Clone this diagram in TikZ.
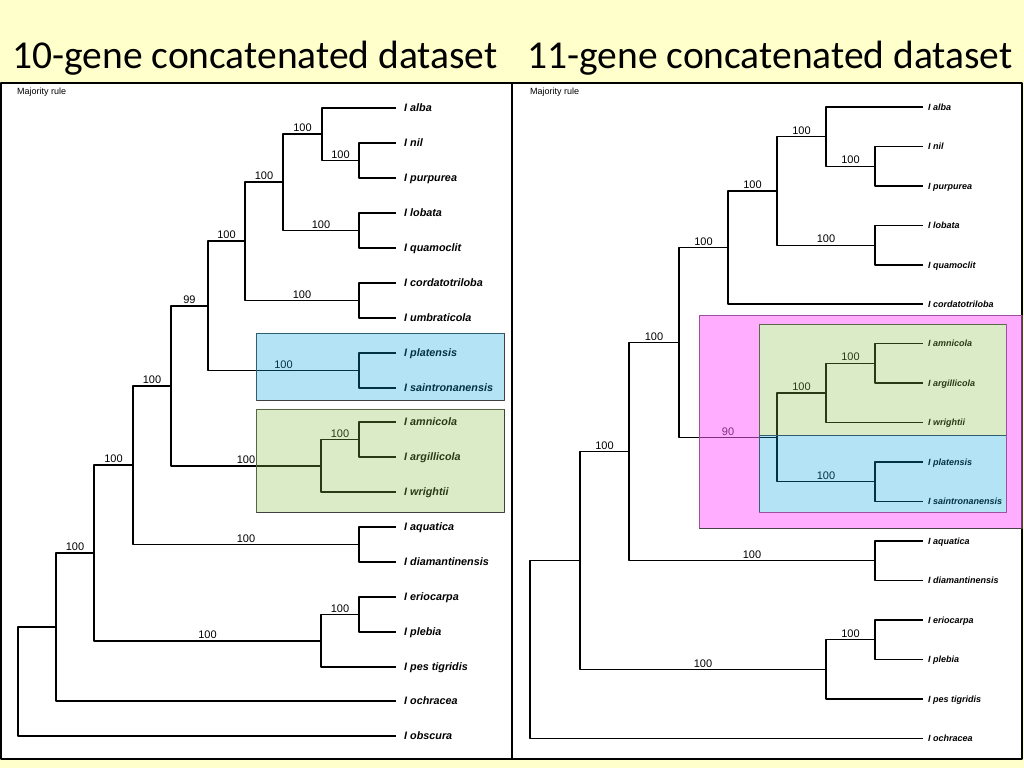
\documentclass[tikz,border=0pt]{standalone}
\usepackage{fontspec}
\setmainfont{Carlito}
\newfontfamily\treefont{Liberation Sans}
\definecolor{slidebg}{RGB}{255,255,204}
\definecolor{bluebox}{RGB}{5,165,225}
\definecolor{greenbox}{RGB}{142,192,72}
\definecolor{pinkbox}{RGB}{255,95,255}
\begin{document}
\begin{tikzpicture}[x=1bp,y=-1bp,line join=bevel,
  branch/.style={black,line width=1.3bp},
  leaf/.style={anchor=west,inner xsep=8bp,inner ysep=0pt,text height=7.7bp,text depth=0pt,
    font=\treefont\bfseries\itshape\fontsize{10.8bp}{12bp}\selectfont},
  rleaf/.style={leaf,inner xsep=5bp,text height=6.4bp,
    font=\treefont\bfseries\itshape\fontsize{9bp}{10bp}\selectfont},
  boot/.style={pos=0.75,above,inner sep=1.5bp,font=\treefont\fontsize{11bp}{12bp}\selectfont},
  panel/.style={draw=black,fill=white,line width=1.5bp},
  ]
\useasboundingbox (0,0) rectangle (1024,768);
\fill[slidebg] (0,0) rectangle (1024,768);
%%
\node (title_l) at (12,69) [anchor=base west,inner sep=0pt,font=\fontsize{39.5bp}{40bp}\selectfont] {10-gene concatenated dataset};
\node (title_r) at (527,69) [anchor=base west,inner sep=0pt,font=\fontsize{39.5bp}{40bp}\selectfont] {11-gene concatenated dataset};
\draw[panel] (1,83) rectangle (512,759);
\draw[panel] (512,83) rectangle (1022,759);
\node (maj_l) at (17,92) [anchor=west,inner sep=0pt,font=\treefont\fontsize{9bp}{10bp}\selectfont] {Majority rule};
\node (maj_r) at (530,92) [anchor=west,inner sep=0pt,font=\treefont\fontsize{9bp}{10bp}\selectfont] {Majority rule};
%% 10-gene tree
\node (L_alba) at (396,108) [leaf] {I alba};
\node (L_nil) at (396,143) [leaf] {I nil};
\node (L_purpurea) at (396,178) [leaf] {I purpurea};
\node (L_lobata) at (396,213) [leaf] {I lobata};
\node (L_quamoclit) at (396,248) [leaf] {I quamoclit};
\node (L_cordatotriloba) at (396,283) [leaf] {I cordatotriloba};
\node (L_umbraticola) at (396,318) [leaf] {I umbraticola};
\node (L_platensis) at (396,353) [leaf] {I platensis};
\node (L_saintronanensis) at (396,388) [leaf] {I saintronanensis};
\node (L_amnicola) at (396,422) [leaf] {I amnicola};
\node (L_argillicola) at (396,457) [leaf] {I argillicola};
\node (L_wrightii) at (396,492) [leaf] {I wrightii};
\node (L_aquatica) at (396,527) [leaf] {I aquatica};
\node (L_diamantinensis) at (396,562) [leaf] {I diamantinensis};
\node (L_eriocarpa) at (396,597) [leaf] {I eriocarpa};
\node (L_plebia) at (396,632) [leaf] {I plebia};
\node (L_pestigridis) at (396,667) [leaf] {I pes tigridis};
\node (L_ochracea) at (396,701) [leaf] {I ochracea};
\node (L_obscura) at (396,736) [leaf] {I obscura};
%
\coordinate (L_np) at (359,160.5);
\coordinate (L_a) at (322,134);
\coordinate (L_lq) at (359,230.5);
\coordinate (L_b) at (283,182);
\coordinate (L_cu) at (359,300.5);
\coordinate (L_c) at (245,241);
\coordinate (L_ps) at (359,370.5);
\coordinate (L_d) at (208,306);
\coordinate (L_aa) at (359,439.5);
\coordinate (L_e) at (321,466);
\coordinate (L_f) at (171,386);
\coordinate (L_ad) at (359,544.5);
\coordinate (L_g) at (133,465);
\coordinate (L_ep) at (359,614.5);
\coordinate (L_h) at (321,641);
\coordinate (L_i) at (94,553);
\coordinate (L_j) at (56,627);
\coordinate (L_root) at (18,681.5);
%
\draw[branch] (L_root) |- (L_j);
\draw[branch] (L_root) |- (L_obscura.west);
\draw[branch] (L_j) |- node[boot]{100} (L_i);
\draw[branch] (L_j) |- (L_ochracea.west);
\draw[branch] (L_i) |- node[boot]{100} (L_g);
\draw[branch] (L_i) |- node[boot]{100} (L_h);
\draw[branch] (L_h) |- node[boot]{100} (L_ep);
\draw[branch] (L_h) |- (L_pestigridis.west);
\draw[branch] (L_ep) |- (L_eriocarpa.west);
\draw[branch] (L_ep) |- (L_plebia.west);
\draw[branch] (L_g) |- node[boot]{100} (L_f);
\draw[branch] (L_g) |- node[boot]{100} (L_ad);
\draw[branch] (L_ad) |- (L_aquatica.west);
\draw[branch] (L_ad) |- (L_diamantinensis.west);
\draw[branch] (L_f) |- node[boot]{99} (L_d);
\draw[branch] (L_f) |- node[boot]{100} (L_e);
\draw[branch] (L_e) |- node[boot]{100} (L_aa);
\draw[branch] (L_e) |- (L_wrightii.west);
\draw[branch] (L_aa) |- (L_amnicola.west);
\draw[branch] (L_aa) |- (L_argillicola.west);
\draw[branch] (L_d) |- node[boot]{100} (L_c);
\draw[branch] (L_d) |- node[boot]{100} (L_ps);
\draw[branch] (L_ps) |- (L_platensis.west);
\draw[branch] (L_ps) |- (L_saintronanensis.west);
\draw[branch] (L_c) |- node[boot]{100} (L_b);
\draw[branch] (L_c) |- node[boot]{100} (L_cu);
\draw[branch] (L_cu) |- (L_cordatotriloba.west);
\draw[branch] (L_cu) |- (L_umbraticola.west);
\draw[branch] (L_b) |- node[boot]{100} (L_a);
\draw[branch] (L_b) |- node[boot]{100} (L_lq);
\draw[branch] (L_lq) |- (L_lobata.west);
\draw[branch] (L_lq) |- (L_quamoclit.west);
\draw[branch] (L_a) |- (L_alba.west);
\draw[branch] (L_a) |- node[boot]{100} (L_np);
\draw[branch] (L_np) |- (L_nil.west);
\draw[branch] (L_np) |- (L_purpurea.west);
%% 11-gene tree
\node (R_alba) at (923,107) [rleaf] {I alba};
\node (R_nil) at (923,146.5) [rleaf] {I nil};
\node (R_purpurea) at (923,186) [rleaf] {I purpurea};
\node (R_lobata) at (923,225.5) [rleaf] {I lobata};
\node (R_quamoclit) at (923,265) [rleaf] {I quamoclit};
\node (R_cordatotriloba) at (923,304) [rleaf] {I cordatotriloba};
\node (R_amnicola) at (923,343.5) [rleaf] {I amnicola};
\node (R_argillicola) at (923,383) [rleaf] {I argillicola};
\node (R_wrightii) at (923,422.5) [rleaf] {I wrightii};
\node (R_platensis) at (923,462) [rleaf] {I platensis};
\node (R_saintronanensis) at (923,501.5) [rleaf] {I saintronanensis};
\node (R_aquatica) at (923,541) [rleaf] {I aquatica};
\node (R_diamantinensis) at (923,580.5) [rleaf] {I diamantinensis};
\node (R_eriocarpa) at (923,620) [rleaf] {I eriocarpa};
\node (R_plebia) at (923,659.5) [rleaf] {I plebia};
\node (R_pestigridis) at (923,699) [rleaf] {I pes tigridis};
\node (R_ochracea) at (923,738.5) [rleaf] {I ochracea};
%
\coordinate (R_np) at (875,166.25);
\coordinate (R_a) at (826,136.6);
\coordinate (R_lq) at (875,245.25);
\coordinate (R_b) at (777,190.9);
\coordinate (R_c) at (728,247.5);
\coordinate (R_aa) at (875,363.25);
\coordinate (R_e) at (826,392.9);
\coordinate (R_ps) at (875,481.75);
\coordinate (R_f) at (777,437.3);
\coordinate (R_d) at (679,342.4);
\coordinate (R_ad) at (875,560.75);
\coordinate (R_g) at (629,451.6);
\coordinate (R_ep) at (875,639.75);
\coordinate (R_i) at (826,669.4);
\coordinate (R_h) at (580,560.5);
\coordinate (R_root) at (530,649.5);
%
\draw[branch] (R_root) |- (R_h);
\draw[branch] (R_root) |- (R_ochracea.west);
\draw[branch] (R_h) |- node[boot]{100} (R_g);
\draw[branch] (R_h) |- node[boot]{100} (R_i);
\draw[branch] (R_i) |- node[boot]{100} (R_ep);
\draw[branch] (R_i) |- (R_pestigridis.west);
\draw[branch] (R_ep) |- (R_eriocarpa.west);
\draw[branch] (R_ep) |- (R_plebia.west);
\draw[branch] (R_g) |- node[boot]{100} (R_d);
\draw[branch] (R_g) |- node[boot]{100} (R_ad);
\draw[branch] (R_ad) |- (R_aquatica.west);
\draw[branch] (R_ad) |- (R_diamantinensis.west);
\draw[branch] (R_d) |- node[boot]{100} (R_c);
\draw[branch] (R_d) |- node[boot]{90} (R_f);
\draw[branch] (R_c) |- node[boot]{100} (R_b);
\draw[branch] (R_c) |- (R_cordatotriloba.west);
\draw[branch] (R_b) |- node[boot]{100} (R_a);
\draw[branch] (R_b) |- node[boot]{100} (R_lq);
\draw[branch] (R_a) |- (R_alba.west);
\draw[branch] (R_a) |- node[boot]{100} (R_np);
\draw[branch] (R_np) |- (R_nil.west);
\draw[branch] (R_np) |- (R_purpurea.west);
\draw[branch] (R_lq) |- (R_lobata.west);
\draw[branch] (R_lq) |- (R_quamoclit.west);
\draw[branch] (R_f) |- node[boot]{100} (R_e);
\draw[branch] (R_f) |- node[boot]{100} (R_ps);
\draw[branch] (R_e) |- node[boot]{100} (R_aa);
\draw[branch] (R_e) |- (R_wrightii.west);
\draw[branch] (R_aa) |- (R_amnicola.west);
\draw[branch] (R_aa) |- (R_argillicola.west);
\draw[branch] (R_ps) |- (R_platensis.west);
\draw[branch] (R_ps) |- (R_saintronanensis.west);
%% clade boxes
\draw[black!75,line width=0.7bp] (256,333) rectangle (504,400);
\draw[black!75,line width=0.7bp] (256,409) rectangle (504,512);
\draw[black!75,line width=0.7bp] (699,315) rectangle (1022,528);
\draw[black!75,line width=0.7bp] (759,324) rectangle (1006,512);
\draw[black!75,line width=0.7bp] (759,435) -- (1006,435);
\fill[bluebox,fill opacity=0.3] (256,333) rectangle (504,400);
\fill[greenbox,fill opacity=0.3] (256,409) rectangle (504,512);
\fill[pinkbox,fill opacity=0.5,even odd rule] (699,315) rectangle (1022,528) (759,324) rectangle (1006,512);
\fill[greenbox,fill opacity=0.3] (759,324) rectangle (1006,435);
\fill[bluebox,fill opacity=0.3] (759,435) rectangle (1006,512);
%
\end{tikzpicture}
\end{document}
